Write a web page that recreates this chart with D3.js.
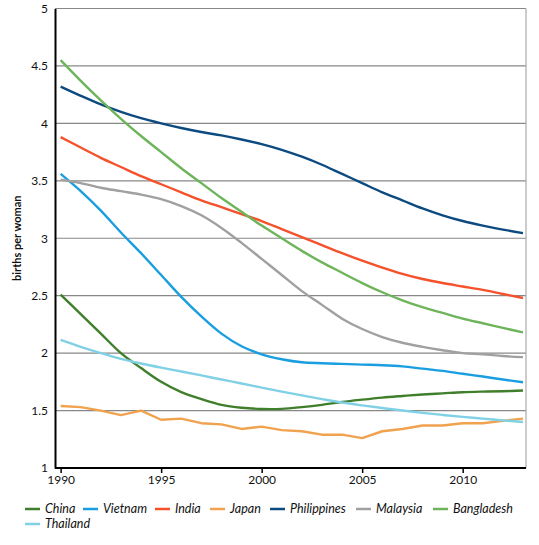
<!DOCTYPE html>
<html><head><meta charset="utf-8">
<script src="https://cdn.jsdelivr.net/npm/d3@7"></script>
<style>
body{margin:0;background:#fff;}
text{font-family:Lato,"Open Sans",sans-serif;}
</style></head>
<body><svg id="c" width="539" height="545"></svg>
<script>
const years = d3.range(1990, 2014);
const xTicks = [1990, 1995, 2000, 2005, 2010];
const yTicks = [1, 1.5, 2, 2.5, 3, 3.5, 4, 4.5, 5];
const seriesNames = ["China","Vietnam","India","Japan","Philippines","Malaysia","Bangladesh","Thailand"];
const seriesColors = ["#3f7f2c","#1a9ee0","#f5512b","#f0a24f","#0c4a80","#a0a0a0","#6db45a","#80d0e6"];
const china = [2.51,2.34,2.17,2.0,1.87,1.75,1.66,1.6,1.55,1.525,1.514,1.515,1.53,1.55,1.575,1.595,1.613,1.627,1.64,1.65,1.66,1.665,1.668,1.674];
const vietnam = [3.56,3.41,3.24,3.05,2.87,2.68,2.49,2.32,2.17,2.06,1.99,1.947,1.92,1.912,1.906,1.90,1.895,1.885,1.865,1.845,1.82,1.796,1.77,1.747];
const india = [3.88,3.79,3.70,3.62,3.54,3.47,3.40,3.33,3.27,3.21,3.15,3.08,3.01,2.94,2.87,2.805,2.745,2.69,2.645,2.61,2.58,2.55,2.515,2.48];
const japan = [1.54,1.53,1.50,1.46,1.50,1.42,1.43,1.39,1.38,1.34,1.36,1.33,1.32,1.29,1.29,1.26,1.32,1.34,1.37,1.37,1.39,1.39,1.41,1.43];
const philippines = [4.32,4.24,4.165,4.10,4.045,4.00,3.96,3.925,3.895,3.86,3.82,3.77,3.71,3.64,3.56,3.48,3.40,3.33,3.26,3.20,3.15,3.11,3.075,3.045];
const malaysia = [3.51,3.48,3.44,3.41,3.38,3.34,3.28,3.20,3.09,2.96,2.82,2.68,2.54,2.42,2.30,2.21,2.14,2.09,2.055,2.025,2.0,1.99,1.975,1.965];
const bangladesh = [4.55,4.37,4.20,4.04,3.89,3.75,3.61,3.48,3.35,3.23,3.11,3.00,2.89,2.79,2.70,2.61,2.53,2.46,2.40,2.35,2.30,2.26,2.22,2.18];
const thailand = [2.115,2.055,2.0,1.95,1.91,1.874,1.84,1.806,1.77,1.736,1.70,1.665,1.632,1.60,1.57,1.545,1.522,1.50,1.48,1.462,1.445,1.43,1.415,1.40];
const seriesValues = [china, vietnam, india, japan, philippines, malaysia, bangladesh, thailand];

const svg = d3.select("#c");
const L = 55, R = 526, T = 8.5, B = 468;
const x = d3.scaleLinear().domain([1989.72, 2013.15]).range([L, R]);
const y = d3.scaleLinear().domain([1, 5]).range([B, T]);

// gridlines
svg.append("g").selectAll("line").data(yTicks.filter(d => d > 1)).join("line")
  .attr("x1", L).attr("x2", R).attr("y1", d => y(d)).attr("y2", d => y(d))
  .attr("stroke", "#888").attr("stroke-width", 1.2);
// right border
svg.append("line").attr("x1", R).attr("x2", R).attr("y1", T).attr("y2", B)
  .attr("stroke", "#aaa").attr("stroke-width", 1.2);

// y axis
const yAxis = d3.axisLeft(y).tickValues(yTicks).tickSize(0).tickPadding(7).tickFormat(d3.format("~g"));
const gy = svg.append("g").attr("transform", `translate(${L},0)`).call(yAxis);
gy.select(".domain").attr("stroke", "#000").attr("stroke-width", 2);
gy.selectAll("text").attr("font-size", 12).attr("fill", "#111").style("font-family", "Lato, sans-serif");

// x axis
const xAxis = d3.axisBottom(x).tickValues(xTicks).tickSize(5).tickPadding(2).tickFormat(d3.format("d"));
const gx = svg.append("g").attr("transform", `translate(0,${B})`).call(xAxis);
gx.select(".domain").attr("stroke", "#000").attr("stroke-width", 2).attr("d", `M${L},0H${R}`);
gx.selectAll(".tick line").attr("stroke", "#000").attr("stroke-width", 1.5);
gx.selectAll("text").attr("font-size", 12).attr("fill", "#111").style("font-family", "Lato, sans-serif");

// y label
svg.append("text").attr("transform", `translate(21,${(T+B)/2}) rotate(-90)`)
  .attr("text-anchor", "middle").attr("font-size", 11).attr("font-weight", "bold")
  .attr("fill", "#111").text("births per woman");

// lines
const line = d3.line().x((d, i) => x(years[i])).y(d => y(d)).curve(d3.curveCatmullRom.alpha(0.5));
const lineJ = d3.line().x((d, i) => x(years[i])).y(d => y(d)).curve(d3.curveLinear);
svg.append("g").selectAll("path").data(seriesValues).join("path")
  .attr("d", (d, i) => seriesNames[i] === "Japan" ? lineJ(d) : line(d))
  .attr("fill", "none").attr("stroke", (d, i) => seriesColors[i])
  .attr("stroke-width", 2.4).attr("stroke-linejoin", "round");

// legend
const legendX = [25, 83, 155, 210, 270, 356, 433, 25];
const legendY = [509, 509, 509, 509, 509, 509, 509, 524];
const lg = svg.append("g").selectAll("g").data(seriesNames).join("g")
  .attr("transform", (d, i) => `translate(${legendX[i]},${legendY[i]})`);
lg.append("line").attr("x1", 0).attr("x2", 15).attr("y1", 0).attr("y2", 0)
  .attr("stroke", (d, i) => seriesColors[i]).attr("stroke-width", 2.5);
lg.append("text").attr("x", 20).attr("y", 4).attr("font-size", 12.5)
  .attr("font-style", "italic").attr("fill", "#111").text(d => d);
</script></body></html>
